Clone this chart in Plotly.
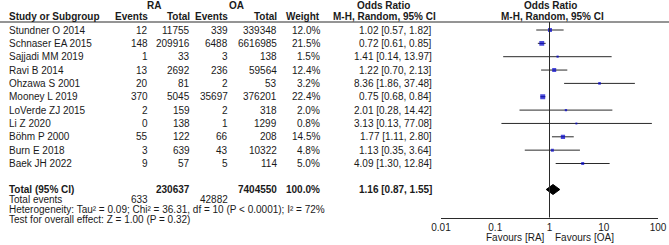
import plotly.graph_objects as go

# ---------------- data ----------------
studies = ["Stundner O 2014", "Schnaser EA 2015", "Sajjadi MM 2019", "Ravi B 2014",
           "Ohzawa S 2001", "Mooney L 2019", "LoVerde ZJ 2015", "Li Z 2020",
           "Böhm P 2000", "Burn E 2018", "Baek JH 2022"]
ra_events = [12, 148, 1, 13, 20, 370, 2, 0, 55, 3, 9]
ra_total = [11755, 209916, 33, 2692, 81, 5045, 159, 138, 122, 639, 57]
oa_events = [339, 6488, 3, 236, 2, 35697, 2, 1, 66, 43, 5]
oa_total = [339348, 6616985, 138, 59564, 53, 376201, 318, 1299, 208, 10322, 114]
weights = [12.0, 21.5, 1.5, 12.4, 3.2, 22.4, 2.0, 0.8, 14.5, 4.8, 5.0]
or_est = [1.02, 0.72, 1.41, 1.22, 8.36, 0.75, 2.01, 3.13, 1.77, 1.13, 4.09]
or_lo = [0.57, 0.61, 0.14, 0.70, 1.86, 0.68, 0.28, 0.13, 1.11, 0.35, 1.30]
or_hi = [1.82, 0.85, 13.97, 2.13, 37.48, 0.84, 14.42, 77.08, 2.80, 3.64, 12.84]

total_ra = 230637
total_oa = 7404550
total_weight = 100.0
total_or, total_lo, total_hi = 1.16, 0.87, 1.55
events_ra, events_oa = 633, 42882
heterogeneity = "Heterogeneity: Tau² = 0.09; Chi² = 36.31, df = 10 (P < 0.0001); I² = 72%"
overall = "Test for overall effect: Z = 1.00 (P = 0.32)"

tick_vals = [0.01, 0.1, 1, 10, 100]
tick_text = ["0.01", "0.1", "1", "10", "100"]
fav_left, fav_right = "Favours [RA]", "Favours [OA]"

# ---------------- layout constants (pixels) ----------------
W, H = 669, 245
FONT = "Liberation Sans, Arial, sans-serif"
TXT = "#1a1a1a"
LINE = "#2a2a2a"
FS = 10
row0, rstep = 30.0, 13.35
row_y = [row0 + i * rstep for i in range(len(studies))]
y_total = 189.5
y_events, y_het, y_test = 199.5, 209.5, 219.5
y_head1, y_head2, y_line = 6.0, 17.0, 22.0
axis_y = 217.5
fx0, fx1 = 441.0, 658.0

col_study = 8
col_ra_ev, col_ra_tot = 149, 190.5
col_oa_ev, col_oa_tot = 228.5, 278
col_w = 321
col_ci = 432.5

def px(x):
    return x / W

def py(y):
    return 1 - y / H

fig = go.Figure()
ann = []

def txt(x, y, s, anchor="right", bold=False):
    ann.append(dict(x=px(x), y=py(y), xref="paper", yref="paper",
                    text=(f"<b>{s}</b>" if bold else s),
                    showarrow=False, xanchor=anchor, yanchor="middle", borderpad=0,
                    font=dict(family=FONT, size=FS, color=TXT)))

# headers
txt((117 + col_ra_tot) / 2, y_head1, "RA", "center", True)
txt((195 + col_oa_tot) / 2, y_head1, "OA", "center", True)
txt(383, y_head1, "Odds Ratio", "center", True)
txt(550, y_head1, "Odds Ratio", "center", True)
txt(col_study, y_head2, "Study or Subgroup", "left", True)
txt(col_ra_ev, y_head2, "Events", "right", True)
txt(col_ra_tot, y_head2, "Total", "right", True)
txt(col_oa_ev, y_head2, "Events", "right", True)
txt(col_oa_tot, y_head2, "Total", "right", True)
txt(col_w, y_head2, "Weight", "right", True)
txt(384, y_head2, "M-H, Random, 95% CI", "center", True)
txt(552, y_head2, "M-H, Random, 95% CI", "center", True)

# study rows
for i, s in enumerate(studies):
    y = row_y[i]
    txt(col_study, y, s, "left")
    txt(col_ra_ev, y, str(ra_events[i]))
    txt(col_ra_tot, y, str(ra_total[i]))
    txt(col_oa_ev, y, str(oa_events[i]))
    txt(col_oa_tot, y, str(oa_total[i]))
    txt(col_w, y, f"{weights[i]:.1f}%")
    txt(col_ci, y, f"{or_est[i]:.2f} [{or_lo[i]:.2f}, {or_hi[i]:.2f}]")

# totals
txt(col_study, y_total, "Total (95% CI)", "left", True)
txt(col_ra_tot, y_total, str(total_ra), "right", True)
txt(col_oa_tot, y_total, str(total_oa), "right", True)
txt(col_w, y_total, f"{total_weight:.1f}%", "right", True)
txt(col_ci, y_total, f"{total_or:.2f} [{total_lo:.2f}, {total_hi:.2f}]", "right", True)
txt(col_study, y_events, "Total events", "left")
txt(col_ra_ev, y_events, str(events_ra))
txt(col_oa_ev, y_events, str(events_oa))
txt(col_study, y_het, heterogeneity, "left")
txt(col_study, y_test, overall, "left")

# favours
txt(546, 237.5, fav_left, "right")
txt(554, 237.5, fav_right, "left")

# CI lines
cx, cy = [], []
for i in range(len(studies)):
    cx += [or_lo[i], or_hi[i], None]
    cy += [row_y[i], row_y[i], None]
fig.add_trace(go.Scatter(x=cx, y=cy, mode="lines", line=dict(color=LINE, width=1),
                         hoverinfo="skip", showlegend=False))
# squares (area ~ weight)
fig.add_trace(go.Scatter(x=or_est, y=row_y, mode="markers",
                         marker=dict(symbol="square", color="#0000cc",
                                     size=[1.2 + 0.8 * w ** 0.5 for w in weights],
                                     line=dict(width=0)),
                         hoverinfo="skip", showlegend=False))
# pooled diamond
dh = 5.0
fig.add_trace(go.Scatter(x=[total_lo, total_or, total_hi, total_or, total_lo],
                         y=[y_total, y_total - dh, y_total, y_total + dh, y_total],
                         mode="lines", fill="toself", fillcolor="#000000",
                         line=dict(color="#000000", width=1),
                         hoverinfo="skip", showlegend=False))

shapes = [
    dict(type="line", xref="paper", yref="paper", x0=0, x1=1, y0=py(y_line), y1=py(y_line),
         line=dict(color=LINE, width=1)),
    dict(type="line", xref="x", yref="paper", x0=1, x1=1, y0=py(y_line), y1=py(axis_y),
         line=dict(color=LINE, width=1)),
]

common = dict(type="log", range=[-2, 2], domain=[px(fx0), px(fx1)], anchor="y",
              automargin=False, showgrid=False, zeroline=False,
              tickmode="array", tickvals=tick_vals)
fig.update_layout(
    template="none",
    width=W, height=H, margin=dict(l=0, r=0, t=0, b=0, pad=0, autoexpand=False),
    autosize=False,
    paper_bgcolor="white", plot_bgcolor="rgba(0,0,0,0)",
    showlegend=False, hovermode=False,
    annotations=ann, shapes=shapes,
    xaxis=dict(**common, showline=True, linecolor=LINE, linewidth=1, ticks="",
               ticktext=tick_text, tickfont=dict(family=FONT, size=FS, color=TXT)),
    xaxis2=dict(**common, overlaying="x", showline=False, ticks="outside", ticklen=2,
                tickcolor=LINE, tickwidth=1, showticklabels=False),
    xaxis3=dict(**common, overlaying="x", showline=False, ticks="inside", ticklen=3,
                tickcolor=LINE, tickwidth=1, showticklabels=False),
    yaxis=dict(range=[axis_y, 0], domain=[py(axis_y), 1], visible=False, showgrid=False,
               zeroline=False, automargin=False),
)

fig.write_html("out.html", config={"displayModeBar": False, "staticPlot": True},
               post_script="document.body.style.margin='0';document.body.style.padding='0';")
